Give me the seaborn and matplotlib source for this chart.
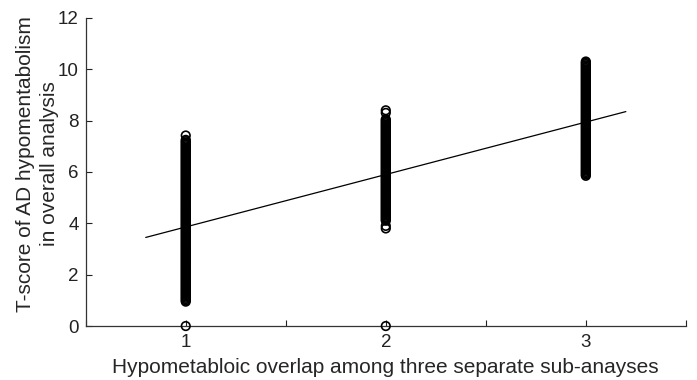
import matplotlib
matplotlib.use('Agg')
import matplotlib.pyplot as plt
import seaborn as sns
import pandas as pd

# T-scores, grouped by overlap count (1, 2, 3)
overlap_1 = [0.0, 0.95,
             1.0, 1.05, 1.1, 1.15, 1.2, 1.25, 1.3, 1.35, 1.4, 1.45,
             1.5, 1.55, 1.6, 1.65, 1.7, 1.75, 1.8, 1.85, 1.9, 1.95,
             2.0, 2.05, 2.1, 2.15, 2.2, 2.25, 2.3, 2.35, 2.4, 2.45,
             2.5, 2.55, 2.6, 2.65, 2.7, 2.75, 2.8, 2.85, 2.9, 2.95,
             3.0, 3.05, 3.1, 3.15, 3.2, 3.25, 3.3, 3.35, 3.4, 3.45,
             3.5, 3.55, 3.6, 3.65, 3.7, 3.75, 3.8, 3.85, 3.9, 3.95,
             4.0, 4.05, 4.1, 4.15, 4.2, 4.25, 4.3, 4.35, 4.4, 4.45,
             4.5, 4.55, 4.6, 4.65, 4.7, 4.75, 4.8, 4.85, 4.9, 4.95,
             5.0, 5.05, 5.1, 5.15, 5.2, 5.25, 5.3, 5.35, 5.4, 5.45,
             5.5, 5.55, 5.6, 5.65, 5.7, 5.75, 5.8, 5.85, 5.9, 5.95,
             6.0, 6.05, 6.1, 6.15, 6.2, 6.25, 6.3, 6.35, 6.4, 6.45,
             6.5, 6.55, 6.6, 6.65, 6.7, 6.75, 6.8, 6.85, 6.9, 6.95,
             7.0, 7.05, 7.1, 7.15, 7.2, 7.25,
             7.42]
overlap_2 = [0.0, 3.8, 3.9,
             4.1, 4.15, 4.2, 4.25, 4.3, 4.35, 4.4, 4.45,
             4.5, 4.55, 4.6, 4.65, 4.7, 4.75, 4.8, 4.85, 4.9, 4.95,
             5.0, 5.05, 5.1, 5.15, 5.2, 5.25, 5.3, 5.35, 5.4, 5.45,
             5.5, 5.55, 5.6, 5.65, 5.7, 5.75, 5.8, 5.85, 5.9, 5.95,
             6.0, 6.05, 6.1, 6.15, 6.2, 6.25, 6.3, 6.35, 6.4, 6.45,
             6.5, 6.55, 6.6, 6.65, 6.7, 6.75, 6.8, 6.85, 6.9, 6.95,
             7.0, 7.05, 7.1, 7.15, 7.2, 7.25, 7.3, 7.35, 7.4, 7.45,
             7.5, 7.55, 7.6, 7.65, 7.7, 7.75, 7.8, 7.85, 7.9, 7.95,
             8.0, 8.05,
             8.3, 8.4]
overlap_3 = [5.85, 5.9, 5.95,
             6.0, 6.05, 6.1, 6.15, 6.2, 6.25, 6.3, 6.35, 6.4, 6.45,
             6.5, 6.55, 6.6, 6.65, 6.7, 6.75, 6.8, 6.85, 6.9, 6.95,
             7.0, 7.05, 7.1, 7.15, 7.2, 7.25, 7.3, 7.35, 7.4, 7.45,
             7.5, 7.55, 7.6, 7.65, 7.7, 7.75, 7.8, 7.85, 7.9, 7.95,
             8.0, 8.05, 8.1, 8.15, 8.2, 8.25, 8.3, 8.35, 8.4, 8.45,
             8.5, 8.55, 8.6, 8.65, 8.7, 8.75, 8.8, 8.85, 8.9, 8.95,
             9.0, 9.05, 9.1, 9.15, 9.2, 9.25, 9.3, 9.35, 9.4, 9.45,
             9.5, 9.55, 9.6, 9.65, 9.7, 9.75, 9.8, 9.85, 9.9, 9.95,
             10.0, 10.05, 10.1, 10.15, 10.2, 10.25, 10.3]

# fitted line end points
fit_x = [0.8, 3.2]
fit_y = [3.45, 8.35]

x_ticks = [0.5, 1, 1.5, 2, 2.5, 3, 3.5]
x_ticklabels = ['', '1', '', '2', '', '3', '']
y_ticks = [0, 2, 4, 6, 8, 10, 12]

df = pd.DataFrame({
    'overlap': [1] * len(overlap_1) + [2] * len(overlap_2) + [3] * len(overlap_3),
    'tscore': overlap_1 + overlap_2 + overlap_3,
})
fit = pd.DataFrame({'x': fit_x, 'y': fit_y})

sns.set_style('white')
plt.rcParams['font.family'] = ['Liberation Sans', 'DejaVu Sans']

fig = plt.figure(figsize=(6.97, 3.8), dpi=100)
ax = fig.add_axes([0.123, 0.142, 0.861, 0.811])

sns.scatterplot(data=df, x='overlap', y='tscore', ax=ax, marker='o',
                facecolor='none', edgecolor='black', linewidth=1.2, s=38,
                legend=False, clip_on=False, zorder=3)
sns.lineplot(data=fit, x='x', y='y', ax=ax, color='black', linewidth=0.9)

ax.set_xlim(0.5, 3.5)
ax.set_ylim(0, 12)
ax.set_xticks(x_ticks)
ax.set_xticklabels(x_ticklabels)
ax.set_yticks(y_ticks)
ax.tick_params(direction='in', length=4, width=0.8, colors='#222222',
               labelsize=13.5, left=True, bottom=True)
ax.tick_params(axis='x', pad=6)
ax.tick_params(axis='y', pad=5)

for side in ['top', 'right']:
    ax.spines[side].set_visible(False)
for side in ['left', 'bottom']:
    ax.spines[side].set_color('#333333')
    ax.spines[side].set_linewidth(0.9)

ax.set_xlabel('Hypometabloic overlap among three separate sub-anayses',
              fontsize=15, labelpad=5)
ax.set_ylabel('T-score of AD hypomentabolism\nin overall analysis',
              fontsize=15, linespacing=1.3)
ax.yaxis.set_label_coords(-0.045, 0.526)

fig.savefig('out.png', dpi=100)
